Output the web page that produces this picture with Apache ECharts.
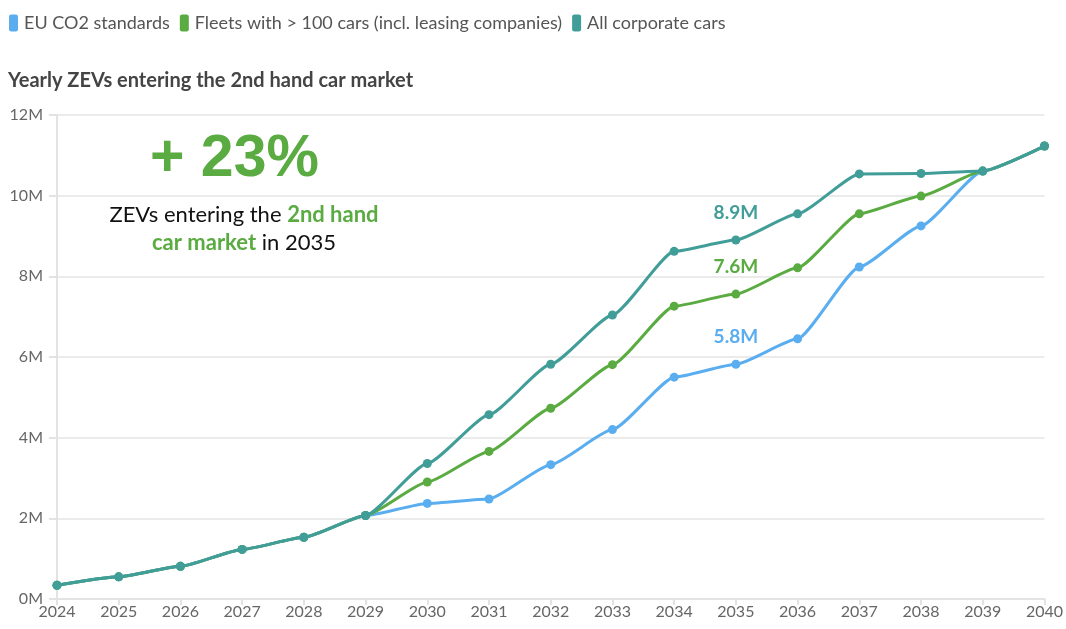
<!DOCTYPE html>
<html>
<head>
<meta charset="utf-8">
<script src="https://cdn.jsdelivr.net/npm/echarts@6/dist/echarts.min.js"></script>
<style>html,body{margin:0;padding:0;background:#fff}#c{width:1066px;height:629px}</style>
</head>
<body>
<div id="c"></div>
<script>
const years = ['2024','2025','2026','2027','2028','2029','2030','2031','2032','2033','2034','2035','2036','2037','2038','2039','2040'];
const euCO2 = [0.34,0.55,0.81,1.23,1.53,2.07,2.37,2.48,3.33,4.20,5.50,5.82,6.45,8.23,9.25,10.61,11.23];
const fleets = [0.34,0.55,0.81,1.23,1.53,2.07,2.90,3.66,4.73,5.81,7.26,7.56,8.21,9.55,9.99,10.61,11.23];
const corporate = [0.34,0.55,0.81,1.23,1.53,2.07,3.36,4.57,5.82,7.04,8.62,8.90,9.55,10.54,10.55,10.61,11.23];
const seriesNames = ['EU CO2 standards','Fleets with > 100 cars (incl. leasing companies)','All corporate cars'];
const labelYear = '2035';

const colors = ['#5aaef0','#5aab41','#419d98'];
const FONT = 'Lato';

function mkData(arr, color){
  return arr.map((v,i)=>{
    const val = v*1e6;
    if (years[i] === labelYear) {
      return {value: val, label: {show: true, position: 'top', distance: 13,
        formatter: p => (p.value/1e6).toFixed(1)+'M',
        color: color, fontWeight: 'bold', fontSize: 19, fontFamily: FONT}};
    }
    return val;
  });
}

const chart = echarts.init(document.getElementById('c'));
chart.setOption({
  animation: false,
  color: colors,
  legend: {
    left: 4, top: 9, itemGap: 10, itemWidth: 9, itemHeight: 17,
    icon: 'roundRect',
    textStyle: {fontSize: 18, color: '#555', fontFamily: FONT, padding: [0,0,0,1]},
    data: seriesNames
  },
  title: {
    text: 'Yearly ZEVs entering the 2nd hand car market',
    left: 3, top: 66,
    textStyle: {fontSize: 20, fontWeight: 'bold', color: '#444', fontFamily: FONT}
  },
  grid: {left: 57, right: 21, top: 115, bottom: 30},
  xAxis: {
    type: 'category', data: years, boundaryGap: false,
    axisLine: {lineStyle: {color: '#e3e3e3', width: 2}},
    axisTick: {show: true, alignWithLabel: true, length: 6, lineStyle: {color: '#e3e3e3', width: 2}},
    axisLabel: {color: '#666', fontSize: 16, fontFamily: FONT, margin: 5}
  },
  yAxis: {
    type: 'value', min: 0, max: 12e6, interval: 2e6,
    axisLine: {show: true, lineStyle: {color: '#e3e3e3', width: 2}},
    axisTick: {show: true, length: 8, lineStyle: {color: '#e3e3e3', width: 2}},
    splitLine: {lineStyle: {color: '#ebebeb', width: 2}},
    axisLabel: {color: '#666', fontSize: 16, fontFamily: FONT, margin: 14,
      formatter: v => (v/1e6)+'M'}
  },
  series: [euCO2, fleets, corporate].map((arr, k) => ({
    name: seriesNames[k], type: 'line', smooth: 0.17, smoothMonotone: 'x',
    data: mkData(arr, colors[k]),
    symbol: 'circle', symbolSize: 9,
    lineStyle: {width: 3, color: colors[k]},
    itemStyle: {color: colors[k]},
    z: 2 + k
  })),
  graphic: [
    {type: 'text', left: 150, top: 130,
      style: {text: '+ 23%', fill: '#5aab41', font: 'bold 59px "Liberation Sans"'}},
    {type: 'text', x: 244, y: 201,
      style: {
        text: '{a|ZEVs entering the }{b|2nd hand}\n{b|car market}{a| in 2035}',
        align: 'center', verticalAlign: 'top', lineHeight: 28,
        rich: {
          a: {fontSize: 22, fontFamily: FONT, fill: '#111', lineHeight: 28},
          b: {fontSize: 22, fontFamily: FONT, fontWeight: 'bold', fill: '#5aab41', lineHeight: 28}
        }
      }}
  ]
});
</script>
</body>
</html>
